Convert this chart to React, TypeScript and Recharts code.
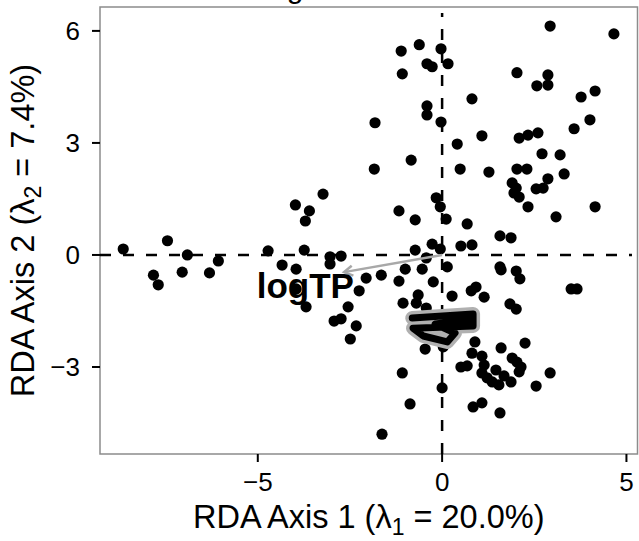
import React from "react";
import {
  ScatterChart,
  Scatter,
  XAxis,
  YAxis,
  ReferenceLine,
  ReferenceArea,
} from "recharts";

const FONT = '"Liberation Sans", Arial, Helvetica, sans-serif';

// site scores: [RDA axis 1, RDA axis 2]
const sites: [number, number][] = [
  // left arm
  [-8.65, 0.16], [-7.45, 0.38], [-6.91, 0.0], [-7.83, -0.54], [-7.7, -0.8],
  [-7.05, -0.46], [-6.31, -0.48], [-6.07, -0.16], [-4.72, 0.11], [-4.34, -0.27],
  [-3.96, -0.38], [-3.74, 0.13], [-3.98, 1.34], [-3.6, 1.18], [-3.71, 0.91],
  [-3.23, 1.63], [-3.04, -0.05], [-2.74, -0.03], [-3.04, -0.24], [-3.96, -0.91],
  [-3.69, -1.39], [-2.06, -0.62], [-1.65, -0.54], [-2.25, -0.96], [-2.55, -1.39],
  [-2.93, -1.77], [-2.74, -1.71], [-2.33, -1.9], [-2.49, -2.25],
  // upper middle
  [-1.11, 5.46], [-0.62, 5.63], [-0.03, 5.52], [-0.41, 5.12], [-0.27, 5.04],
  [0.16, 5.12], [-1.08, 4.85], [-0.41, 3.99], [-0.41, 3.75], [-0.03, 3.56],
  [-1.82, 3.54], [0.81, 4.18], [0.41, 2.97], [-0.84, 2.54], [0.49, 2.3],
  [-1.84, 2.3], [1.08, 3.19], [1.27, 2.22], [-0.16, 1.53], [-0.05, 1.29],
  [-1.17, 1.18], [-0.73, 0.94], [0.11, 0.96], [0.68, 0.83], [-0.73, 0.13],
  [-0.27, 0.29], [-0.05, 0.16], [0.51, 0.24], [0.81, 0.27], [-0.43, -0.08],
  [0.14, -0.32], [-1.0, -0.38], [-0.54, -0.38], [1.57, 0.51], [1.87, 0.46],
  // upper right
  [2.93, 6.13], [4.66, 5.92], [2.03, 4.88], [2.87, 4.82], [2.57, 4.53],
  [2.87, 4.55], [3.77, 4.23], [4.15, 4.39], [4.01, 3.62], [3.58, 3.38],
  [2.09, 3.13], [2.33, 3.21], [2.6, 3.27], [2.71, 2.71], [3.2, 2.68],
  [2.03, 2.3], [2.3, 2.3], [3.31, 2.17], [2.87, 2.04], [2.55, 1.77],
  [2.74, 1.79], [1.9, 1.93], [2.01, 1.79], [1.95, 1.66], [2.09, 1.55],
  [2.33, 1.29], [3.09, 1.02], [4.15, 1.29],
  // lower middle
  [-1.17, -0.7], [-0.24, -0.72], [-1.06, -1.29], [-0.7, -1.29], [-0.65, -1.07],
  [0.27, -1.1], [0.79, -0.96], [0.92, -0.86], [1.14, -1.13], [1.57, -0.32],
  [1.6, -0.4], [2.01, -0.43], [2.11, -0.64], [3.5, -0.91], [3.66, -0.91],
  [1.84, -1.31], [2.01, -1.45], [-0.43, -1.42], [-0.46, -2.52], [0.03, -2.46],
  [-1.08, -3.16], [0.0, -3.56], [-0.87, -3.99], [-1.63, -4.8], [0.51, -3.0],
  [0.68, -2.97], [0.84, -4.07], [1.08, -3.96], [1.57, -4.23],
  // lower right cluster
  [0.89, -2.33], [0.81, -2.63], [1.6, -2.49], [2.25, -2.36], [1.08, -2.71],
  [1.14, -2.95], [1.08, -3.16], [1.46, -3.08], [1.36, -3.4], [1.54, -3.48],
  [1.9, -2.76], [2.03, -2.87], [2.14, -3.0], [2.09, -3.13], [1.87, -3.4],
  [2.55, -3.51], [2.93, -3.16], [1.22, -3.29], [1.68, -3.24],
];

// fitted environmental vector and its label
const envName = "logTP";
const envTip = { x: -2.66, y: -0.46 };
const envLabelAt = { x: -3.71, y: -1.15 };

// overplotted centroid labels (scribble)
const scribble: [number, number][] = [
  [-0.81, -1.69], [0.84, -1.58], [0.84, -1.9], [-0.79, -1.96], [-0.51, -2.17],
  [0.14, -2.33], [0.35, -2.09], [-0.19, -1.85], [0.73, -1.74],
];

const xTicks = [-5, 0, 5];
const yTicks = [-3, 0, 3, 6];
const xDomain: [number, number] = [-9.28, 5.3];
const yDomain: [number, number] = [-5.33, 6.64];

const siteData = sites.map(([x, y]) => ({ x, y }));
const scribbleData = scribble.map(([x, y]) => ({ x, y }));
const arrowData = [{ x: 0, y: 0 }, envTip];

function arrowHead(x: number, y: number, len = 0.27, ang = Math.PI / 6) {
  const a = Math.atan2(y, x);
  return [
    { x: x - len * Math.cos(a - ang), y: y - len * Math.sin(a - ang) },
    { x, y },
    { x: x - len * Math.cos(a + ang), y: y - len * Math.sin(a + ang) },
  ];
}

const fmt = (v: number) => String(v).replace("-", "\u2212");

function XTitle({ viewBox }: any) {
  const { x, y, width } = viewBox;
  return (
    <text x={x + width / 2} y={y + 74} textAnchor="middle" fontSize={32.5} fontFamily={FONT} fill="#000">
      RDA Axis 1 (λ<tspan dy={7} fontSize={23}>1</tspan>
      <tspan dy={-7}> = 20.0%)</tspan>
    </text>
  );
}

function YTitle({ viewBox }: any) {
  const cx = viewBox.x + 34;
  const cy = viewBox.y + viewBox.height / 2;
  return (
    <text
      x={cx}
      y={cy}
      transform={`rotate(-90, ${cx}, ${cy})`}
      textAnchor="middle"
      fontSize={32.5}
      fontFamily={FONT}
      fill="#000"
    >
      RDA Axis 2 (λ<tspan dy={7} fontSize={23}>2</tspan>
      <tspan dy={-7}> = 7.4%)</tspan>
    </text>
  );
}

const dot = (p: any) => <circle cx={p.cx} cy={p.cy} r={5.6} fill="#000" />;
const none = () => <g />;

export default function App() {
  const tick = { fontSize: 26, fill: "#000", fontFamily: FONT };
  return (
    <div style={{ position: "absolute", left: 0, top: 0, width: 639, height: 541, background: "#fff" }}>
      {/* title sits above the page; only the descender shows */}
      <svg width={639} height={10} style={{ position: "absolute", left: 0, top: 0, overflow: "visible" }}>
        <text x={295} y={-2} textAnchor="middle" fontSize={30} fontFamily={FONT} fill="#000">g</text>
      </svg>
      <ScatterChart width={639} height={541} margin={{ top: 7, right: 1.5, bottom: 0, left: 0 }}>
        <XAxis
          type="number"
          dataKey="x"
          domain={xDomain}
          allowDataOverflow
          ticks={xTicks}
          tickFormatter={fmt}
          axisLine={false}
          tickLine={{ stroke: "#000", strokeWidth: 2 }}
          tickSize={8}
          tickMargin={11}
          tick={tick}
          height={87}
          label={<XTitle />}
        />
        <YAxis
          type="number"
          dataKey="y"
          domain={yDomain}
          allowDataOverflow
          ticks={yTicks}
          tickFormatter={fmt}
          axisLine={false}
          tickLine={{ stroke: "#000", strokeWidth: 2 }}
          tickSize={8}
          tickMargin={12}
          tick={tick}
          width={100}
          label={<YTitle />}
        />
        <ReferenceArea
          x1={xDomain[0]}
          x2={xDomain[1]}
          y1={yDomain[0]}
          y2={yDomain[1]}
          fill="none"
          stroke="#8c8c8c"
          strokeWidth={1.5}
        />
        <ReferenceLine
          segment={[{ x: 0, y: yDomain[0] }, { x: 0, y: 6.48 }]}
          stroke="#000"
          strokeWidth={2.5}
          strokeDasharray="11 12"
        />
        <ReferenceLine
          segment={[{ x: xDomain[0], y: 0 }, { x: 5.15, y: 0 }]}
          stroke="#000"
          strokeWidth={2.5}
          strokeDasharray="11 12"
        />
        <Scatter data={siteData} fill="#000" shape={dot} isAnimationActive={false} />
        <Scatter
          data={arrowData}
          fill="#a8a8a8"
          shape={none}
          line={{ stroke: "#a8a8a8", strokeWidth: 2.5 }}
          isAnimationActive={false}
        />
        <Scatter
          data={arrowHead(envTip.x, envTip.y)}
          fill="#a8a8a8"
          shape={none}
          line={{ stroke: "#a8a8a8", strokeWidth: 2.5 }}
          isAnimationActive={false}
        />
        <Scatter
          data={[envLabelAt]}
          fill="#000"
          isAnimationActive={false}
          shape={(p: any) => (
            <text x={p.cx} y={p.cy} textAnchor="middle" fontSize={35} fontWeight="bold" fontFamily={FONT} fill="#000">
              {envName}
            </text>
          )}
        />
        <Scatter
          data={scribbleData}
          fill="#b0b0b0"
          shape={none}
          line={{ stroke: "#b0b0b0", strokeWidth: 14, strokeLinejoin: "round", strokeLinecap: "round" }}
          isAnimationActive={false}
        />
        <Scatter
          data={scribbleData}
          fill="#000"
          shape={none}
          line={{ stroke: "#000", strokeWidth: 7, strokeLinejoin: "round", strokeLinecap: "round" }}
          isAnimationActive={false}
        />
      </ScatterChart>
    </div>
  );
}
